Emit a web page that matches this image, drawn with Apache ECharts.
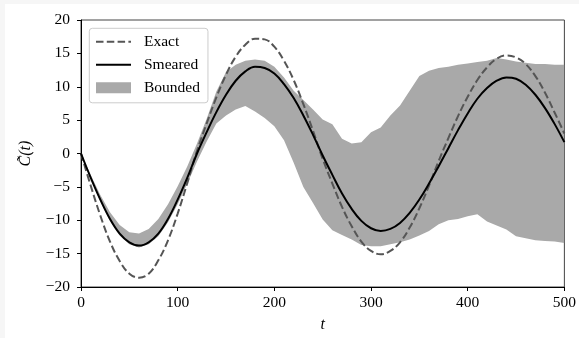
<!DOCTYPE html>
<html>
<head>
<meta charset="utf-8">
<script src="https://cdn.jsdelivr.net/npm/echarts@6/dist/echarts.min.js"></script>
<style>
html,body{margin:0;padding:0;background:#f6f6f6;width:579px;height:338px;overflow:hidden;}
#chart{position:absolute;left:5px;top:4px;width:574px;height:334px;background:#ffffff;}
</style>
</head>
<body>
<div id="chart"></div>
<script>
// ---- data ----
const tValues = [0,10,20,30,40,50,60,70,80,90,100,110,120,130,140,150,160,170,180,190,200,
  210,220,230,240,250,260,270,280,290,300,310,320,330,340,350,360,370,380,390,400,
  410,420,430,440,450,460,470,480,490,500];

const exactValues = [0,-4.8,-9.3,-13.2,-16.1,-18.0,-18.6,-18.0,-16.0,-13.0,-9.0,-4.4,0.4,4.5,8.4,11.8,14.5,16.3,17.2,17.1,16.0,
  13.9,11.0,7.4,3.4,-0.8,-4.5,-8.0,-10.9,-13.2,-14.6,-15.1,-14.6,-13.3,-11.1,-8.2,-4.8,-1.1,2.3,5.6,8.5,
  11.0,12.9,14.2,14.7,14.4,13.4,11.6,9.1,6.1,3.0];

const smearedValues = [0,-3.6,-6.9,-9.8,-12.0,-13.3,-13.8,-13.3,-12.0,-9.8,-6.9,-3.6,0,3.2,6.2,8.8,10.9,12.3,13.0,12.8,12.0,
  10.4,8.3,5.7,2.8,-0.3,-3.2,-6.0,-8.3,-10.1,-11.2,-11.6,-11.3,-10.4,-8.9,-6.9,-4.5,-1.9,0.8,3.5,6.0,
  8.2,9.8,10.9,11.4,11.2,10.3,8.8,6.8,4.4,1.7];

const boundUpper = [0,-3.2,-6.2,-8.8,-10.7,-11.8,-12.0,-11.3,-9.8,-7.6,-4.9,-1.9,1.5,5.2,9.3,12.2,13.3,13.9,14.1,13.9,13.0,
  11.4,9.4,8.0,6.6,5.1,4.4,2.2,1.5,1.7,3.2,3.9,5.7,7.2,9.4,11.6,12.4,12.8,13.0,13.3,13.5,
  13.7,13.9,14.3,14.1,13.8,13.6,13.4,13.4,13.3,13.3];

const boundLower = [0,-3.8,-7.2,-10.1,-12.3,-13.6,-14.1,-13.6,-12.4,-10.3,-7.6,-4.5,-1.2,1.8,4.5,5.7,6.6,7.1,6.3,5.3,4.1,
  2.0,-1.4,-5.0,-7.4,-9.9,-11.5,-12.2,-12.9,-13.7,-13.9,-13.9,-13.6,-13.3,-12.9,-12.3,-11.6,-10.6,-10.0,-9.8,-9.4,
  -9.1,-10.2,-10.8,-11.4,-12.4,-12.7,-13.0,-13.1,-13.2,-13.4];

const xTicks = [0,100,200,300,400,500];
const yTicks = [-20,-15,-10,-5,0,5,10,15,20];
const seriesNames = ['Exact','Smeared','Bounded'];
const xName = 't';
const yName = 'C\u0303(t)';

// ---- build ----
const pairs = (ys) => tValues.map((t,i) => [t, ys[i]]);
const fmt = (v) => (v < 0 ? '\u2212' + Math.abs(v) : String(v));
const serif = "'Liberation Serif','Times New Roman',serif";
const bandColor = '#a9a9a9';

const chart = echarts.init(document.getElementById('chart'), null, {renderer:'canvas'});
chart.setOption({
  animation: false,
  backgroundColor: '#ffffff',
  grid: {left: 76, right: 14, top: 16, bottom: 49, show: true, borderColor: '#444', borderWidth: 1, backgroundColor: 'transparent'},
  legend: {
    orient: 'vertical', left: 84.3, top: 24.3,
    padding: [5.5, 8, 7, 5.7],
    itemGap: 7, itemWidth: 35, itemHeight: 11,
    backgroundColor: 'rgba(255,255,255,0.8)', borderColor: '#cccccc', borderWidth: 1, borderRadius: 3,
    textStyle: {fontFamily: serif, fontSize: 15.5, color: '#000', padding: [0,0,0,8]},
    data: [
      {name: seriesNames[0], itemStyle: {opacity: 0}},
      {name: seriesNames[1], itemStyle: {opacity: 0}},
      {name: seriesNames[2], icon: 'rect', itemStyle: {color: bandColor, opacity: 1}}
    ]
  },
  xAxis: {
    type: 'value', min: xTicks[0], max: xTicks[xTicks.length-1], interval: xTicks[1]-xTicks[0],
    name: xName, nameLocation: 'middle', nameGap: 30,
    nameTextStyle: {fontFamily: serif, fontStyle: 'italic', fontSize: 16, color: '#000'},
    axisLine: {show: true, onZero: false, lineStyle: {color: '#000', width: 1}},
    axisTick: {show: true, inside: false, length: 4, lineStyle: {color: '#000'}},
    axisLabel: {fontFamily: serif, fontSize: 15.5, color: '#000', margin: 8, formatter: fmt},
    splitLine: {show: false}
  },
  yAxis: {
    type: 'value', min: yTicks[0], max: yTicks[yTicks.length-1], interval: yTicks[1]-yTicks[0],
    name: yName, nameLocation: 'middle', nameGap: 47, nameRotate: 90,
    nameTextStyle: {fontFamily: serif, fontStyle: 'italic', fontSize: 16, color: '#000'},
    axisLine: {show: true, onZero: false, lineStyle: {color: '#000', width: 1}},
    axisTick: {show: true, inside: false, length: 4, lineStyle: {color: '#000'}},
    axisLabel: {fontFamily: serif, fontSize: 15.5, color: '#000', margin: 11, formatter: fmt},
    splitLine: {show: false}
  },
  series: [
    {
      name: seriesNames[2], type: 'custom', z: 1, color: bandColor,
      data: pairs(boundUpper),
      renderItem: function (params, api) {
        if (params.dataIndex !== 0) return null;
        const pts = [];
        for (let i = 0; i < tValues.length; i++) pts.push(api.coord([tValues[i], boundUpper[i]]));
        for (let i = tValues.length - 1; i >= 0; i--) pts.push(api.coord([tValues[i], boundLower[i]]));
        const cs = params.coordSys;
        return {
          type: 'polygon',
          shape: {points: pts},
          style: {fill: bandColor, stroke: null},
          clipPath: {type: 'rect', shape: {x: cs.x, y: cs.y, width: cs.width, height: cs.height}}
        };
      }
    },
    {
      name: seriesNames[0], type: 'line', data: pairs(exactValues), smooth: 0.4, symbol: 'none',
      color: '#555555', lineStyle: {color: '#555555', width: 2, type: [7.5, 3.3]}, z: 3
    },
    {
      name: seriesNames[1], type: 'line', data: pairs(smearedValues), smooth: 0.4, symbol: 'none',
      color: '#000000', lineStyle: {color: '#000000', width: 2}, z: 4
    }
  ]
});
</script>
</body>
</html>
